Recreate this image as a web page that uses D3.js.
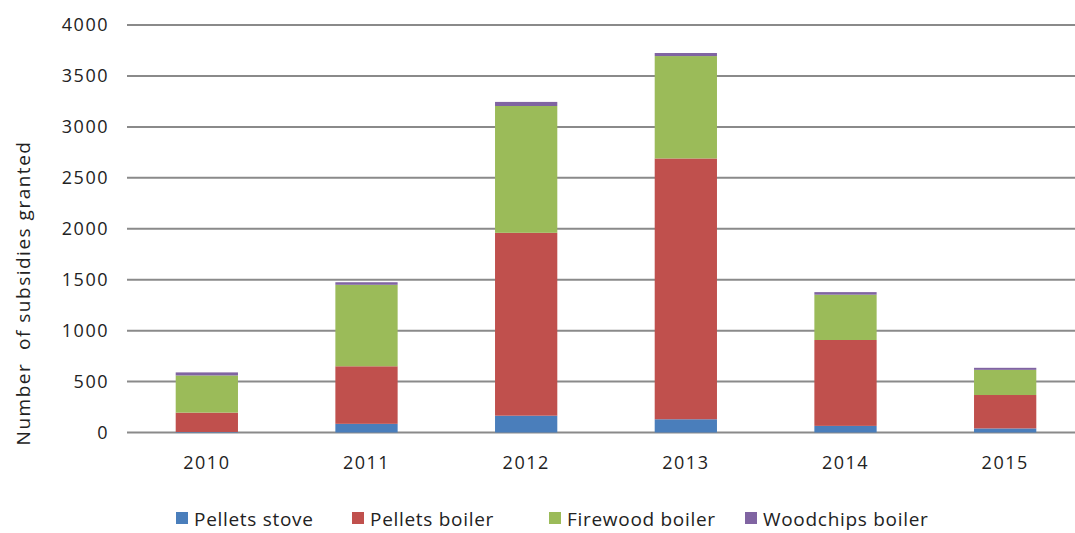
<!DOCTYPE html>
<html>
<head>
<meta charset="utf-8">
<script src="https://cdn.jsdelivr.net/npm/d3@7/dist/d3.min.js"></script>
<style>
  html, body { margin: 0; padding: 0; background: #fff; }
  svg { display: block; }
  text { font-family: "Open Sans", "DejaVu Sans", sans-serif; fill: #222; }
</style>
</head>
<body>
<svg id="chart" width="1075" height="533"></svg>
<script>
// Subsidies granted per year, by heating system type
const years = ["2010", "2011", "2012", "2013", "2014", "2015"];
const pelletsStove    = [5, 85, 165, 130, 65, 40];
const pelletsBoiler   = [190, 565, 1795, 2560, 843, 328];
const firewoodBoiler  = [365, 800, 1245, 1005, 445, 247];
const woodchipsBoiler = [30, 25, 40, 30, 25, 20];
const seriesNames  = ["Pellets stove", "Pellets boiler", "Firewood boiler", "Woodchips boiler"];
const seriesColors = ["#4a7ebb", "#c0504d", "#9bbb59", "#8064a2"];
const yTicks = [0, 500, 1000, 1500, 2000, 2500, 3000, 3500, 4000];
const yTitle = "Number  of subsidies granted";

const rows = years.map((y, i) => ({
  year: y,
  "Pellets stove": pelletsStove[i],
  "Pellets boiler": pelletsBoiler[i],
  "Firewood boiler": firewoodBoiler[i],
  "Woodchips boiler": woodchipsBoiler[i]
}));

const svg = d3.select("#chart");
const plot = { left: 127, right: 1085, top: 25, bottom: 432.5 };

const x = d3.scaleBand().domain(years).range([plot.left, plot.right]).paddingInner(0.61).paddingOuter(0.305);
const y = d3.scaleLinear().domain([0, 4000]).range([plot.bottom, plot.top]);
const color = d3.scaleOrdinal().domain(seriesNames).range(seriesColors);

// horizontal gridlines
svg.append("g")
  .selectAll("line")
  .data(yTicks)
  .join("line")
  .attr("x1", plot.left).attr("x2", 1075)
  .attr("y1", d => y(d)).attr("y2", d => y(d))
  .attr("stroke", "#8a8a8a").attr("stroke-width", 2);

// y axis labels
const yAxis = d3.axisLeft(y).tickValues(yTicks).tickFormat(d3.format("d")).tickSize(0).tickPadding(0);
svg.append("g")
  .attr("transform", `translate(${plot.left - 18},0)`)
  .call(yAxis)
  .call(g => g.select(".domain").remove())
  .call(g => g.selectAll("text")
    .attr("font-size", 18).attr("letter-spacing", 1.5)
    .attr("font-family", "Open Sans").attr("fill", "#222"));

// x axis labels
const xAxis = d3.axisBottom(x).tickSize(0).tickPadding(0);
svg.append("g")
  .attr("transform", `translate(0,${plot.bottom + 24})`)
  .call(xAxis)
  .call(g => g.select(".domain").remove())
  .call(g => g.selectAll("text")
    .attr("font-size", 18).attr("letter-spacing", 1.5)
    .attr("font-family", "Open Sans").attr("fill", "#222"));

// stacked bars
const stacked = d3.stack().keys(seriesNames)(rows);
svg.append("g")
  .selectAll("g")
  .data(stacked)
  .join("g")
  .attr("fill", d => color(d.key))
  .selectAll("rect")
  .data(d => d)
  .join("rect")
  .attr("x", d => x(d.data.year))
  .attr("width", x.bandwidth())
  .attr("y", d => y(d[1]))
  .attr("height", d => y(d[0]) - y(d[1]));

// y axis title
svg.append("text")
  .attr("transform", "translate(30,293) rotate(-90)")
  .attr("text-anchor", "middle")
  .attr("font-size", 19)
  .attr("letter-spacing", 1.5)
  .style("white-space", "pre")
  .text(yTitle);

// legend
const legendX = [176, 352, 549, 745];
const legend = svg.append("g").attr("transform", "translate(0,518)");
const items = legend.selectAll("g")
  .data(seriesNames)
  .join("g")
  .attr("transform", (d, i) => `translate(${legendX[i]},0)`);
items.append("rect")
  .attr("x", 0).attr("y", -6).attr("width", 12).attr("height", 12)
  .attr("fill", d => color(d));
items.append("text")
  .attr("x", 18).attr("y", 8)
  .attr("font-size", 19)
  .attr("letter-spacing", 0.7)
  .text(d => d);
</script>
</body>
</html>
